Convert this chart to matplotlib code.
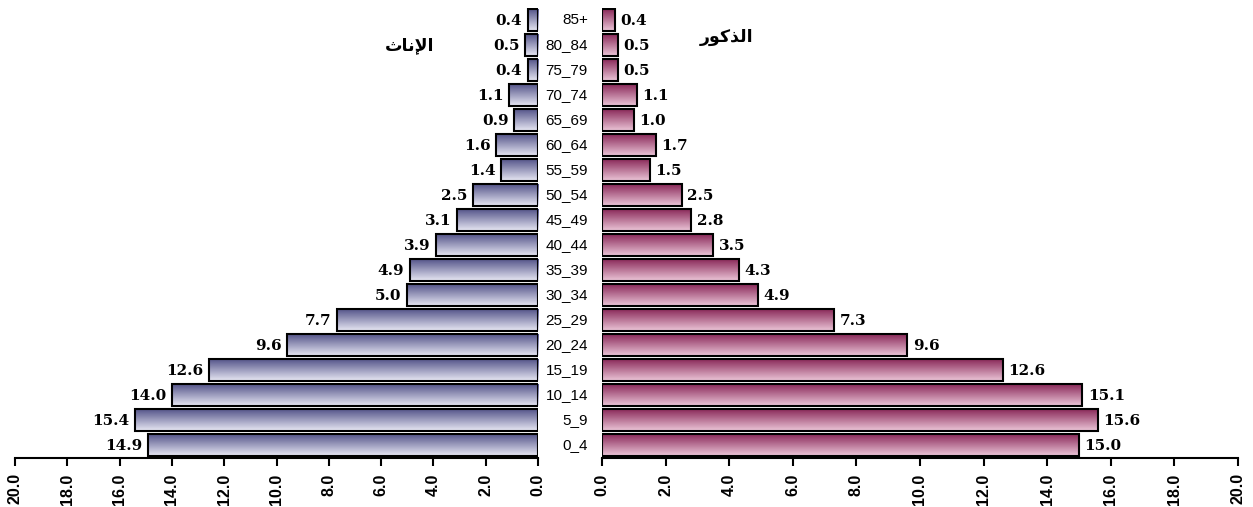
import matplotlib.pyplot as plt
import numpy as np
from matplotlib.colors import to_rgb
from matplotlib.transforms import blended_transform_factory

# Data (percent of population by age group)
ages = ['0_4', '5_9', '10_14', '15_19', '20_24', '25_29', '30_34', '35_39', '40_44',
        '45_49', '50_54', '55_59', '60_64', '65_69', '70_74', '75_79', '80_84', '85+']
female = [14.9, 15.4, 14.0, 12.6, 9.6, 7.7, 5.0, 4.9, 3.9, 3.1, 2.5, 1.4, 1.6, 0.9, 1.1, 0.4, 0.5, 0.4]
male = [15.0, 15.6, 15.1, 12.6, 9.6, 7.3, 4.9, 4.3, 3.5, 2.8, 2.5, 1.5, 1.7, 1.0, 1.1, 0.5, 0.5, 0.4]
ticks = np.arange(0, 21, 2)

# Arabic titles, already shaped (presentation forms in visual order)
title_f = '\uFE99\uFE8E\uFEE7\uFEF9\uFE8D'   # الإناث
title_m = '\uFEAD\uFEEE\uFEDB\uFEAC\uFEDF\uFE8D'  # الذكور

W, H = 1253, 507
fig = plt.figure(figsize=(W / 100, H / 100), dpi=100)
axL = fig.add_axes([15 / W, 0.0966, 523 / W, 0.8886])
axR = fig.add_axes([602 / W, 0.0966, 636 / W, 0.8886])


def grad_bars(ax, vals, top, bottom):
    y = np.arange(len(vals))
    bars = ax.barh(y, vals, height=0.87, color='none', edgecolor='black',
                   linewidth=1.5, zorder=3)
    t = np.array(to_rgb(top))
    b = np.array(to_rgb(bottom))
    f = np.linspace(0, 1, 64)[:, None]
    img = (t * (1 - f) + b * f)[:, None, :]
    for p in bars:
        x0, y0 = p.get_x(), p.get_y()
        im = ax.imshow(img, extent=(x0, x0 + p.get_width(), y0, y0 + p.get_height()),
                       aspect='auto', zorder=2, interpolation='bilinear')
        im.set_clip_path(p)
    return y


yL = grad_bars(axL, female, '#55558a', '#e8e8f4')
yR = grad_bars(axR, male, '#8a2a5a', '#ecc6d8')

for ax in (axL, axR):
    ax.set_ylim(-0.52, 17.5)
    ax.set_yticks([])
    for s in ('top', 'left', 'right'):
        ax.spines[s].set_visible(False)
    ax.spines['bottom'].set_linewidth(1.5)
    ax.set_xticks(ticks)
    ax.set_xticklabels([f'{t:.1f}' for t in ticks], rotation=90,
                       fontweight='bold', fontsize=11.5, family='Liberation Sans')
    ax.tick_params(axis='x', direction='out', length=6, width=1.5, pad=5)

axL.set_xlim(20, 0)
axR.set_xlim(0, 20)

for i, v in enumerate(female):
    axL.annotate(f'{v:.1f}', (v, i), xytext=(-4, -1), textcoords='offset points',
                 ha='right', va='center', fontsize=11, fontweight='bold',
                 family='DejaVu Serif')
for i, v in enumerate(male):
    axR.annotate(f'{v:.1f}', (v, i), xytext=(4, -1), textcoords='offset points',
                 ha='left', va='center', fontsize=11, fontweight='bold',
                 family='DejaVu Serif')

tr = blended_transform_factory(fig.transFigure, axR.transData)
for i, a in enumerate(ages):
    axR.text(588 / W, i, a, transform=tr, ha='right', va='center',
             fontsize=11, family='Liberation Sans', clip_on=False)

fig.text(410 / W, 1 - 45 / H, title_f, ha='center', va='center',
         fontsize=12.5, fontweight='bold', family='DejaVu Sans')
fig.text(727 / W, 1 - 37 / H, title_m, ha='center', va='center',
         fontsize=12.5, fontweight='bold', family='DejaVu Sans')

fig.savefig('out.png', dpi=100)
